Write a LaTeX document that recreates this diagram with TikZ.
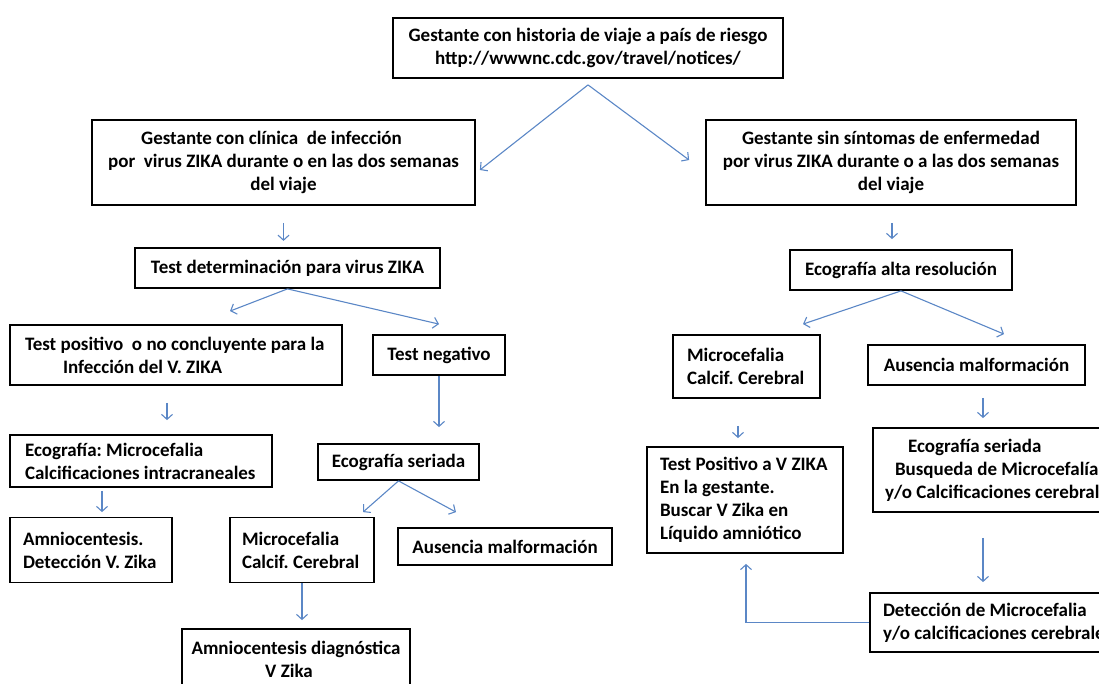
\documentclass[tikz,border=0pt]{standalone}
\usepackage{fontspec}
\setmainfont{Carlito}
\usetikzlibrary{arrows.meta,calc}
\definecolor{flowBlue}{HTML}{5B87C6}
\frenchspacing

\begin{document}
\begin{tikzpicture}[
  x=1pt, y=-1pt,
  font=\bfseries\fontsize{19}{23}\selectfont,
  box/.style ={draw=black, line width=1.8pt, inner ysep=2pt},
  cbox/.style={box, align=center, inner xsep=2pt},
  lbox/.style={box, align=flush left, inner xsep=13pt},
  arr/.style ={draw=flowBlue, line width=1.1pt, -{Straight Barb[length=5pt,width=11pt]}},
]
\useasboundingbox (0,0) rectangle (1099,684);
\clip (0,0) rectangle (1099,684);

% ==================== top ====================
\node[cbox, minimum width=390pt, minimum height=60pt] (viaje) at (588,48)
  {Gestante con historia de viaje a país de riesgo\\http://wwwnc.cdc.gov/travel/notices/};

\node[cbox, minimum width=383pt, minimum height=85pt] (clin) at (283.5,162.5)
  {Gestante con clínica\ \ de infección\hspace*{24pt}\\por\ \ virus ZIKA durante o en las dos semanas\\del viaje};
\node[cbox, minimum width=370pt, minimum height=85pt] (sinsint) at (891,162.5)
  {Gestante sin síntomas de enfermedad\\por virus ZIKA durante o a las dos semanas\\del viaje};

% ==================== left branch ====================
\node[cbox, minimum width=305pt, minimum height=40pt] (testdet) at (287.5,268) {Test determinación para virus ZIKA};
\node[lbox, inner xsep=15pt, text width=302pt, minimum height=60pt] (testpos) at (176,355)
  {Test positivo\ \ o no concluyente para la\\\hspace*{38pt}Infección del V. ZIKA};
\node[cbox, minimum width=132pt, minimum height=40pt] (testneg) at (439,355) {Test negativo};
\node[lbox, inner xsep=15pt, text width=232pt, minimum height=52pt] (ecomicro) at (141,461)
  {Ecografía: Microcefalia\\Calcificaciones intracraneales};
\node[cbox, minimum width=161pt, minimum height=36pt] (ecoser) at (398.5,462) {Ecografía seriada};
\node[lbox, text width=136pt, minimum height=65pt] (amnio) at (91,550)
  {Amniocentesis.\\Detección V. Zika};
\node[lbox, inner xsep=12pt, text width=120pt, minimum height=65pt] (micro) at (302,550)
  {Microcefalia\\Calcif. Cerebral};
\node[cbox, minimum width=214pt, minimum height=37pt] (ausencia) at (505,546.5) {Ausencia malformación};
\node[cbox, minimum width=228pt, minimum height=60pt] (amniodiag) at (296,659)
  {Amniocentesis diagnóstica\\V Zika\hspace*{14pt}};

% ==================== right branch ====================
\node[cbox, minimum width=222pt, minimum height=40pt] (ecoalta) at (901,270) {Ecografía alta resolución};
\node[lbox, inner xsep=14pt, text width=119pt, minimum height=63pt] (micro2) at (746.5,366.5)
  {Microcefalia\\Calcif. Cerebral};
\node[cbox, minimum width=217pt, minimum height=40pt] (ausencia2) at (976.5,365) {Ausencia malformación};
\node[lbox, text width=170pt, minimum height=106pt] (testposv) at (745,500)
  {Test Positivo a V ZIKA\\En la gestante.\\Buscar V Zika en\\Líquido amniótico};
\node[lbox, inner xsep=12pt, text width=236pt, minimum height=84pt] (ecoser2) at (1003,470)
  {\hspace*{23pt}Ecografía seriada\\\hspace*{10pt}Busqueda de Microcefalía\\y/o Calcificaciones cerebrales};
\node[lbox, text width=234pt, minimum height=59pt] (deteccion) at (1000,622.5)
  {Detección de Microcefalia\\y/o calcificaciones cerebrales};

% ==================== connectors ====================
\draw[arr] ([yshift=-6pt]viaje.south) -- ([xshift=4pt,yshift=-7.5pt]clin.east);
\draw[arr] ([yshift=-6pt]viaje.south) -- ([xshift=-16pt,yshift=2.5pt]sinsint.west);
\draw[arr] ($(clin.south)+(0,17)$) -- ($(clin.south)+(0,35)$);
\draw[arr] ($(sinsint.south)+(1,17)$) -- ($(ecoalta.north)+(-9,-10)$);

\draw[arr] (testdet.south) -- ($(testpos.north)+(54,-13)$);
\draw[arr] (testdet.south) -- ($(testneg.north)+(0,-10)$);
\draw[arr] ($(testpos.south)+(-9,17)$) -- ($(ecomicro.north)+(26,-14)$);
\draw[arr] (testneg.south) -- ($(ecoser.north)+(40.5,-16)$);
\draw[arr] ($(ecomicro.south)+(-39,3)$) -- ($(amnio.north)+(11,-4.5)$);
\draw[arr] (ecoser.south) -- ($(micro.north)+(61,-4.5)$);
\draw[arr] (ecoser.south) -- ($(ausencia.north)+(-49,-15)$);
\draw[arr] (micro.south) -- ($(amniodiag.north)+(6,-8)$);

\draw[arr] (ecoalta.south) -- ($(micro2.north)+(56.5,-10)$);
\draw[arr] (ecoalta.south) -- ($(ausencia2.north)+(27.5,-10)$);
\draw[arr] ($(micro2.south)+(-8.5,27)$) -- ($(testposv.north)+(-7,-8)$);
\draw[arr] ($(ausencia2.south)+(6.5,12)$) -- ($(ecoser2.north)+(-20,-9)$);
\draw[arr] ($(ecoser2.south)+(-20,25)$) -- ($(deteccion.north)+(-17,-10)$);
\draw[arr] (deteccion.west) -| ($(testposv.south)+(1,10)$);

\end{tikzpicture}
\end{document}
